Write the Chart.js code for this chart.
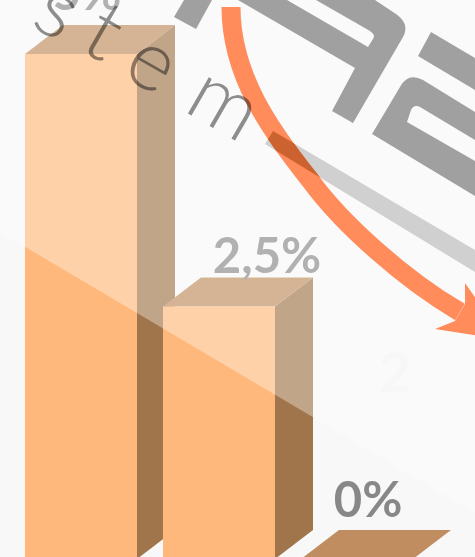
<!DOCTYPE html>
<html lang="en">
<head>
    <meta charset="UTF-8">
    <title>Chart</title>
    <script src="https://cdn.jsdelivr.net/npm/chart.js"></script>
    <style>
        html,body{margin:0;padding:0;width:475px;height:557px;overflow:hidden;background:#f8f8f8;}
        #myChart{position:absolute;left:0;top:-40px;}
    </style>
</head>
<body>
    <canvas id="myChart" width="475" height="640"></canvas>

    <script>
        //data
        const categories = ['5%','2,5%','0%'];
        const values = [5,2.5,0];
        const labelShift = [[6,-44],[48,-34],[11,-42]];   //label offset from bar top
        const letters = [['s',29,25],['t',78,49],['e',120,75],['m',182,110]];

        const DEPTH_X = 38, DEPTH_Y = -29;

        const poly = (ctx,pts)=>{
            ctx.beginPath();
            pts.forEach((p,i)=>{
                if(p.length===4) ctx.quadraticCurveTo(p[0],p[1],p[2],p[3]);
                else if(i===0) ctx.moveTo(p[0],p[1]);
                else ctx.lineTo(p[0],p[1]);
            });
            ctx.closePath();
        };

        //3d faces behind the bars
        const faces = {
            id:'faces',
            beforeDatasetsDraw(chart){
                const ctx = chart.ctx;
                ctx.save();
                ctx.fillStyle = '#f8f8f8';
                ctx.fillRect(0,0,chart.width,chart.height);
                chart.getDatasetMeta(0).data.forEach((bar)=>{
                    const l = bar.x-bar.width/2, r = bar.x+bar.width/2, t = bar.y, b = bar.base;
                    poly(ctx,[[r,t],[r+DEPTH_X,t+DEPTH_Y],[r+DEPTH_X,b+DEPTH_Y],[r,b]]);
                    ctx.fillStyle = '#a0754b';
                    ctx.fill();
                    poly(ctx,[[l,t],[l+DEPTH_X,t+DEPTH_Y],[r+DEPTH_X,t+DEPTH_Y],[r,t]]);
                    ctx.fillStyle = '#bf8d5f';
                    ctx.fill();
                });
                ctx.restore();
            }
        };

        //labels, gloss and the artwork on top
        const decor = {
            id:'decor',
            afterDatasetsDraw(chart){
                const ctx = chart.ctx;
                ctx.save();

                //value labels
                ctx.fillStyle = '#888888';
                ctx.font = '700 49px Lato';
                ctx.textAlign = 'center';
                ctx.textBaseline = 'alphabetic';
                chart.getDatasetMeta(0).data.forEach((bar,i)=>{
                    ctx.fillText(categories[i],bar.x+labelShift[i][0],bar.y+labelShift[i][1]);
                });

                ctx.translate(0,40);

                //gloss
                poly(ctx,[[0,232],[475,513],[475,-40],[0,-40]]);
                ctx.fillStyle = 'rgba(255,255,255,0.35)';
                ctx.fill();

                //faint number
                ctx.fillStyle = '#f7f7f7';
                ctx.font = '700 56px Lato';
                ctx.fillText('2',395,392);

                //big grey logo pieces
                ctx.fillStyle = '#a0a0a0';
                poly(ctx,[[174,17],[196,29],[212,0],[184,0]]);
                ctx.fill();
                poly(ctx,[[238,0],[355,68],[332,111],[353,123],[403,37],[411,23,393,12],[375,0],[316,0],[370,31],[376,35,373,39],[368,47],[287,0]]);
                ctx.fill();
                poly(ctx,[[431,32],[475,58],[475,90],[418,56]]);
                ctx.fill();
                poly(ctx,[[372,134],[400,87],[408,72,423,80],[475,112],[475,140],[420,107],[414,104,411,110],[407,122],[475,161],[475,196]]);
                ctx.fill();

                //grey band
                const band = [[273,131],[475,250],[475,272],[265,144]];
                poly(ctx,band);
                ctx.fillStyle = '#d0d0d0';
                ctx.fill();

                //orange arrow
                const shaft = new Path2D();
                shaft.moveTo(231,7);
                shaft.bezierCurveTo(231,75,270,130,310,180);
                shaft.bezierCurveTo(342,224,405,280,460,312);
                ctx.strokeStyle = '#ff8c5a';
                ctx.lineWidth = 19;
                ctx.stroke(shaft);
                poly(ctx,[[465,283],[505,340],[435,329],[455,321],[465,304]]);
                ctx.fillStyle = '#ff8c5a';
                ctx.fill();

                //band crossing the arrow
                ctx.save();
                poly(ctx,band);
                ctx.clip();
                ctx.strokeStyle = '#cb6230';
                ctx.lineWidth = 19;
                ctx.stroke(shaft);
                ctx.restore();

                //rotated word
                ctx.globalCompositeOperation = 'multiply';
                ctx.fillStyle = '#909090';
                ctx.font = '300 84px Lato';
                ctx.textAlign = 'left';
                letters.forEach((item)=>{
                    ctx.save();
                    ctx.translate(item[1],item[2]);
                    ctx.rotate(30*Math.PI/180);
                    ctx.fillText(item[0],0,0);
                    ctx.restore();
                });

                ctx.restore();
            }
        };

        const ctx = document.querySelector('#myChart').getContext('2d');
        const myChart = new Chart(ctx,{
            type:'bar',
            data:{
                labels:categories,
                datasets:[{
                    data:values,
                    backgroundColor:'#ffb87c',
                    borderWidth:0,
                    barPercentage:0.8116,
                    categoryPercentage:1
                }]
            },
            options:{
                responsive:false,
                animation:false,
                layout:{padding:{left:12,right:49,top:94,bottom:41}},
                plugins:{legend:{display:false},tooltip:{enabled:false}},
                scales:{
                    x:{display:false},
                    y:{display:false,min:0,max:5}
                }
            },
            plugins:[faces,decor]
        });
    </script>
</body>
</html>
